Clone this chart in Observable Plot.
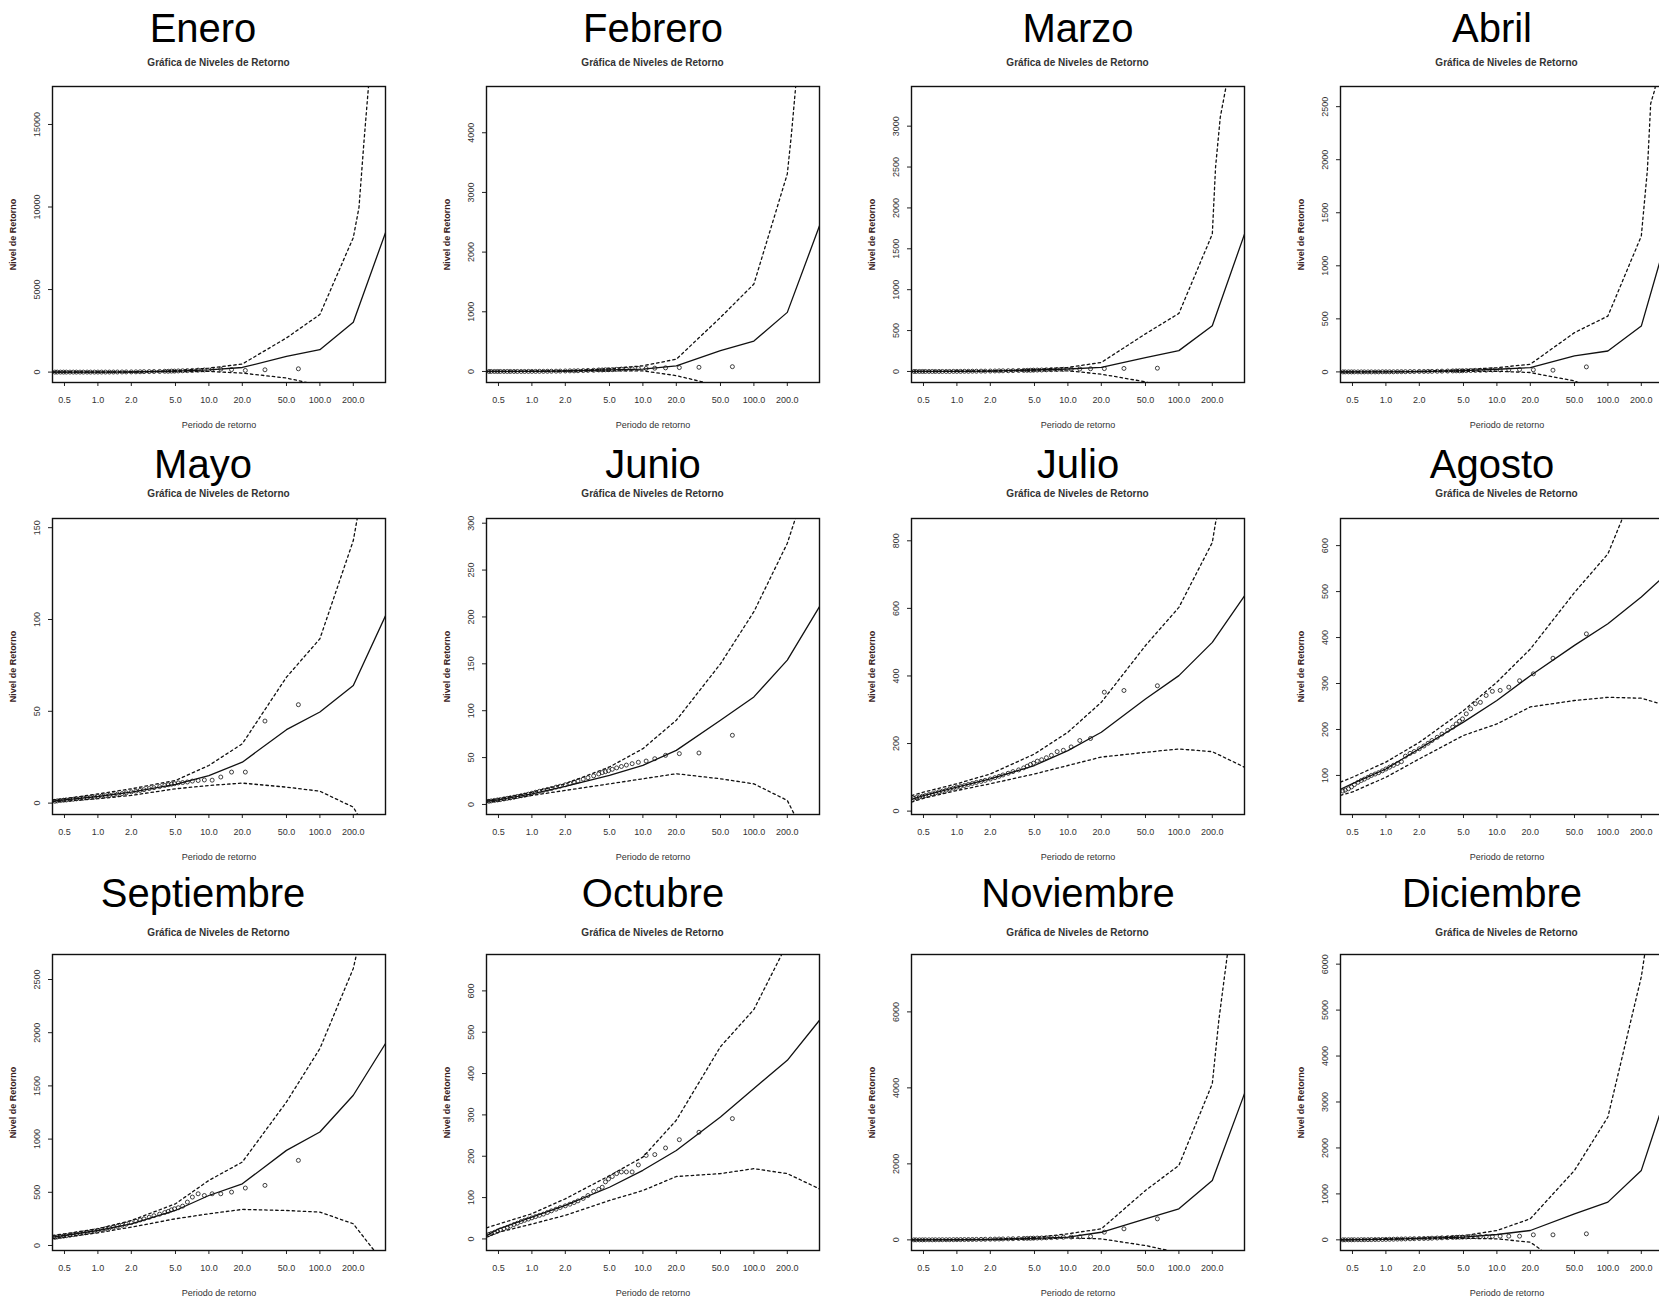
<!DOCTYPE html>
<html><head><meta charset="utf-8">
<script src="https://cdn.jsdelivr.net/npm/d3@7"></script>
<script src="https://cdn.jsdelivr.net/npm/@observablehq/plot@0.6"></script>
<style>
html,body{margin:0;padding:0;background:#fff;overflow:hidden;}
body{width:1659px;height:1300px;position:relative;font-family:"Liberation Sans",Arial,sans-serif;}
.title{position:absolute;font-size:40px;line-height:1;color:#000;white-space:nowrap;transform:translateX(-50%);}
.sub{position:absolute;font-size:10px;line-height:1;font-weight:bold;color:#333;white-space:nowrap;transform:translate(-50%,-50%);}
.panel{position:absolute;}
</style></head><body>
<script>
// ---------- data ----------
const months = ["Enero","Febrero","Marzo","Abril","Mayo","Junio","Julio","Agosto","Septiembre","Octubre","Noviembre","Diciembre"];
const subtitle = "Gráfica de Niveles de Retorno";
const xLabel = "Periodo de retorno";
const yLabel = "Nivel de Retorno";
const xDomain = [0.39, 390];
const xTicks = [0.5, 1, 2, 5, 10, 20, 50, 100, 200];

const yDomains = [[-630,17300],[-185,4775],[-135,3485],[-100,2690],[-6.2,155],[-10.7,305],[-10,866],[15,659],[-47,2735],[-28,688],[-280,7510],[-232,6210]];
const yTicks = [
  [0,5000,10000,15000],
  [0,1000,2000,3000,4000],
  [0,500,1000,1500,2000,2500,3000],
  [0,500,1000,1500,2000,2500],
  [0,50,100,150],
  [0,50,100,150,200,250,300],
  [0,200,400,600,800],
  [100,200,300,400,500,600],
  [0,500,1000,1500,2000,2500],
  [0,100,200,300,400,500,600],
  [0,2000,4000,6000],
  [0,1000,2000,3000,4000,5000,6000]
];

// estimated return level (solid) : [return period, level]
const centralLevel = [
  [[0.39,0],[1,0],[2,5],[5,60],[10,140],[20,280],[50,950],[100,1360],[200,3020],[390,8450]],
  [[0.39,0],[1,2],[2,8],[5,25],[10,40],[20,95],[50,350],[100,510],[200,990],[390,2440]],
  [[0.39,0],[1,1],[2,5],[5,18],[10,30],[20,50],[50,170],[100,255],[200,560],[390,1680]],
  [[0.39,0],[1,1],[2,3],[5,12],[10,25],[20,40],[50,150],[100,197],[200,432],[292,1030],[390,1490]],
  [[0.39,1.1],[0.5,1.8],[1,3.6],[2,6],[5,10.2],[10,15],[20,22.3],[50,40],[100,49.6],[200,64],[390,102]],
  [[0.39,3.6],[0.5,5],[1,11.4],[2,19.2],[5,31],[10,41.7],[20,57.7],[50,89.8],[100,114.7],[200,154],[390,211]],
  [[0.39,34.5],[0.5,46],[1,71],[2,95.6],[5,135],[10,179],[20,233.5],[50,332],[100,401],[200,499.5],[390,637]],
  [[0.39,70],[0.5,82],[1,114],[2,158],[5,216],[10,263],[20,317],[50,383],[100,430],[200,488],[297,526],[390,548]],
  [[0.39,78],[0.5,94],[1,141],[2,204],[5,329],[10,470],[20,580],[50,894],[100,1067],[200,1412],[390,1898]],
  [[0.39,8],[0.5,24],[1,52.5],[2,81],[5,125],[10,166],[20,214],[50,295],[100,364],[200,432],[390,529]],
  [[0.39,0],[1,3],[2,10],[5,40],[10,70],[20,200],[50,553],[100,817],[200,1564],[390,3848]],
  [[0.39,0],[1,10],[2,30],[5,60],[10,116],[20,203],[50,567],[100,821],[200,1511],[390,3640]]
];
// upper confidence band (dashed)
const upperBand = [
  [[0.39,5],[2,20],[5,90],[10,240],[20,490],[50,2070],[100,3490],[200,8150],[225,9970],[250,14030],[273,17170],[290,19000]],
  [[0.39,3],[2,12],[5,45],[10,95],[20,205],[50,905],[100,1465],[200,3310],[218,3980],[237,4735],[250,5300]],
  [[0.39,2],[2,8],[5,25],[10,50],[20,110],[50,460],[100,710],[200,1680],[214,2500],[236,3110],[264,3460],[280,3700]],
  [[0.39,2],[2,6],[5,20],[10,40],[20,72],[50,370],[100,526],[200,1280],[227,1905],[243,2530],[264,2657],[280,2800]],
  [[0.39,1.8],[0.5,2.4],[1,5],[2,7.8],[5,12.3],[10,20.5],[20,32.3],[50,68.6],[100,89.5],[200,143],[220,157]],
  [[0.39,4.5],[0.5,6],[1,13],[2,22],[5,40],[10,59.5],[20,89.8],[50,150],[100,205.6],[200,278.6],[238,306],[250,320]],
  [[0.39,46],[0.5,56],[1,81],[2,110],[5,169],[10,233.5],[20,322],[50,490],[100,603],[200,795],[214,854],[225,880]],
  [[0.39,85.5],[0.5,96],[1,129],[2,172],[5,241],[10,303],[20,375],[50,498],[100,582],[131,651],[140,670]],
  [[0.39,95],[0.5,110],[1,157],[2,235],[5,392],[10,612],[20,784],[50,1349],[100,1851],[200,2604],[214,2740],[225,2850]],
  [[0.39,27],[0.5,36],[1,61],[2,97],[5,153],[10,198],[20,287],[50,465],[100,555],[178,688],[190,705]],
  [[0.39,2],[2,15],[5,60],[10,160],[20,290],[50,1300],[100,1959],[200,4111],[229,5780],[255,6835],[273,7494],[285,8000]],
  [[0.39,3],[2,40],[5,90],[10,203],[20,458],[50,1511],[100,2673],[200,5724],[213,6160],[220,6400]]
];
// lower confidence band (dashed)
const lowerBand = [
  [[0.39,-5],[2,0],[5,30],[10,40],[20,-60],[50,-360],[85,-700]],
  [[0.39,-3],[2,4],[5,8],[10,10],[20,-70],[36.4,-185],[45,-250]],
  [[0.39,-2],[2,3],[5,6],[10,8],[20,-33],[50,-127],[55,-145]],
  [[0.39,-2],[2,2],[5,5],[10,6],[20,-6],[50,-85],[55,-105]],
  [[0.39,0.8],[0.5,1.1],[1,2.4],[2,4.2],[5,7.8],[10,9.6],[20,10.9],[50,8.7],[100,6.5],[200,-2.2],[220,-6.5]],
  [[0.39,2.5],[0.5,3.6],[1,9.6],[2,15],[5,22],[10,27.4],[20,32.8],[50,27.4],[100,22],[200,4.3],[226,-8.2],[235,-12]],
  [[0.39,26.6],[0.5,38],[1,61],[2,81],[5,110],[10,135],[20,160],[50,174],[100,184],[200,176],[390,130]],
  [[0.39,56.5],[0.5,64],[1,96],[2,136],[5,187],[10,212],[20,249],[50,263],[100,270],[200,268],[297,256],[390,250]],
  [[0.39,65],[0.5,78],[1,119],[2,173],[5,251],[10,298],[20,339],[50,329],[100,314],[200,204],[308,-47],[320,-70]],
  [[0.39,4],[0.5,16],[1,36],[2,57],[5,93],[10,117],[20,151],[50,158],[100,170],[200,158],[390,121]],
  [[0.39,-2],[2,5],[5,20],[10,53],[20,26],[50,-150],[81,-281],[90,-320]],
  [[0.39,-3],[2,20],[5,35],[10,22],[20,-51],[24.3,-196],[26,-260]]
];

// empirical return periods of the observations (shared) and observed levels per month
const obsPeriod = [64,32,21.3,16,12.8,10.7,9.1,8,7.1,6.4,5.8,5.3,4.9,4.6,4.3,4.0,3.6,3.2,2.9,2.6,2.4,2.2,2.0,1.8,1.65,1.5,1.38,1.27,1.17,1.08,1.0,0.93,0.86,0.8,0.74,0.69,0.64,0.6,0.56,0.52,0.49,0.46,0.43,0.41];
const obsLevel = [
  [200,140,100,150,180,160,130,120,100,90,80,70,60,60,50,50,40,35,30,25,20,15,12,10,8,6,5,4,3,2,2,1,1,1,0,0,0,0,0,0,0,0,0,0],
  [80,70,65,60,55,50,50,45,40,40,35,30,30,28,25,25,20,18,15,12,10,10,8,6,5,4,3,2,2,1,1,1,0,0,0,0,0,0,0,0,0,0,0,0],
  [40,37,35,33,30,28,26,24,22,20,18,17,16,15,14,13,12,10,9,8,7,6,5,4,4,3,3,2,2,1,1,1,0,0,0,0,0,0,0,0,0,0,0,0],
  [47,16,20,22,20,18,18,16,15,14,13,12,11,10,10,9,8,7,6,5,5,4,4,3,3,2,2,2,1,1,1,1,0,0,0,0,0,0,0,0,0,0,0,0],
  [53.6,44.7,16.9,16.9,14.2,12.5,12.6,12.3,12.0,11.5,11.2,11.0,10.6,10.3,10.0,9.6,9.0,8.4,7.9,7.3,6.9,6.5,6.1,5.6,5.2,4.9,4.6,4.3,4.0,3.8,3.6,3.3,3.1,2.9,2.7,2.5,2.3,2.1,1.9,1.7,1.6,1.4,1.2,1.0],
  [73.8,54.9,54.2,52.4,48.8,46.3,45,43.5,42,40.5,39,37.5,36,35,34,32.5,30.5,28.5,27,25,24,22.5,21,19.5,18.5,17,16,15,14,13,12,11,10,9.3,8.5,7.8,7,6.5,5.9,5.2,4.8,4.3,3.8,3.4],
  [371,357,352,215,209,190,180,176,165,158,152,148,142,138,133,128,122,117,112,107,103,99,95,91,88,85,82,79,76,73,71,68,65,62,59,57,54,51,49,46,44,42,40,38],
  [408,355,321,306,292,285,283,274,259,256,245,234,223,218,212,205,198,190,183,176,170,164,158,152,148,142,130,126,122,118,114,110,106,103,100,96,92,89,85,80,75,71,68,66],
  [800,565,540,502,486,486,470,486,455,408,370,355,345,335,320,310,295,280,265,250,240,228,215,200,190,180,172,165,158,150,143,136,130,124,118,112,107,102,97,92,88,84,80,76],
  [291,258,240,220,204,202,179,162,162,162,158,151,145,138,125,120,115,105,98,92,88,84,80,76,72,68,64,60,57,54,51,48,45,42,38,35,31,28,25,22,19,16,13,11],
  [553,290,202,88,80,75,70,65,60,55,50,48,45,42,40,38,35,30,27,24,22,20,18,16,14,12,10,9,8,7,6,5,4,3,3,2,2,1,1,1,0,0,0,0],
  [131,109,109,80,80,80,75,72,70,68,65,62,60,58,55,52,48,44,40,36,32,30,28,25,22,20,18,16,14,12,10,8,7,6,5,4,3,3,2,2,1,1,0,0]
];

// ---------- layout ----------
const frameLefts = [52, 486, 911, 1340];
const frameTops = [86, 518, 954];
const titleCenters = [203, 653, 1078, 1492];
const titleBaselines = [42, 478, 907];
const subCenters = [63, 494, 933];
const frameW = 333, frameH = 296;
const mL = 60, mR = 12, mT = 8, mB = 56;

const toXY = arr => arr.map(([x, y]) => ({x, y}));

months.forEach((m, i) => {
  const col = i % 4, row = Math.floor(i / 4);
  const fx = frameLefts[col], fy = frameTops[row];

  const t = document.createElement("div");
  t.className = "title";
  t.textContent = m;
  t.style.left = titleCenters[col] + "px";
  t.style.top = (titleBaselines[row] - 34) + "px";
  document.body.appendChild(t);

  const s = document.createElement("div");
  s.className = "sub";
  s.textContent = subtitle;
  s.style.left = (fx + frameW / 2) + "px";
  s.style.top = subCenters[row] + "px";
  document.body.appendChild(s);

  const pts = obsPeriod.map((x, j) => ({x, y: obsLevel[i][j]}));
  const W = frameW + mL + mR, H = frameH + mT + mB;
  const chart = Plot.plot({
    width: W, height: H,
    marginLeft: mL, marginRight: mR, marginTop: mT, marginBottom: mB,
    style: {fontFamily: "'Liberation Sans', Arial, sans-serif", color: "#222", background: "transparent", maxWidth: "none", overflow: "visible"},
    x: {type: "log", domain: xDomain},
    y: {domain: yDomains[i]},
    marks: [
      Plot.axisX({ticks: xTicks, tickFormat: () => "", tickSize: 4, label: null}),
      Plot.text(xTicks, {x: d => d, frameAnchor: "bottom", dy: 18, text: d => d.toFixed(1), fontSize: 9, fill: "#333", lineAnchor: "middle"}),
      Plot.axisY({ticks: yTicks[i], tickFormat: d => String(d), tickSize: 4, tickPadding: 9, tickRotate: -90, fontSize: 9, label: null, fill: "#333"}),
      Plot.line(toXY(upperBand[i]), {x: "x", y: "y", stroke: "#111", strokeWidth: 1.3, strokeDasharray: "2.5,3", clip: true}),
      Plot.line(toXY(lowerBand[i]), {x: "x", y: "y", stroke: "#111", strokeWidth: 1.3, strokeDasharray: "2.5,3", clip: true}),
      Plot.line(toXY(centralLevel[i]), {x: "x", y: "y", stroke: "#111", strokeWidth: 1.3, clip: true}),
      Plot.dot(pts, {x: "x", y: "y", r: 2, stroke: "#111", strokeWidth: 0.8, clip: true}),
      Plot.frame({stroke: "#111", strokeWidth: 1.4}),
      Plot.text([xLabel], {frameAnchor: "bottom", dy: 43, fontSize: 9, fill: "#333", textAnchor: "middle", lineAnchor: "middle"}),
      Plot.text([yLabel], {frameAnchor: "left", dx: -39, rotate: -90, fontSize: 9, fontWeight: "bold", fill: "#3a2222", textAnchor: "middle", lineAnchor: "middle"})
    ]
  });
  const d = document.createElement("div");
  d.className = "panel";
  d.style.left = (fx - mL) + "px";
  d.style.top = (fy - mT) + "px";
  d.style.width = W + "px";
  d.style.height = H + "px";
  d.appendChild(chart);
  document.body.appendChild(d);
});
</script></body></html>
